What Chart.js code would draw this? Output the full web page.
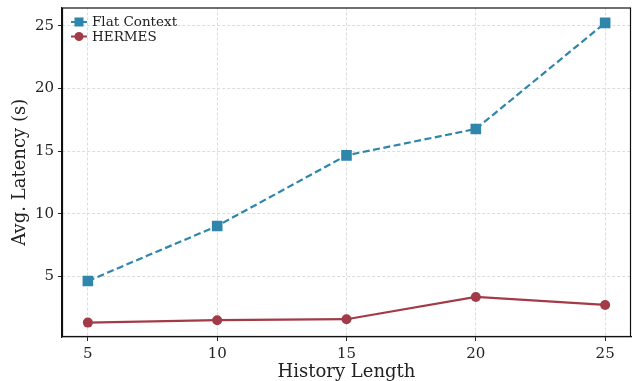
<!DOCTYPE html>
<html><head><meta charset="utf-8">
<script src="https://cdn.jsdelivr.net/npm/chart.js@4.4.0/dist/chart.umd.min.js"></script>
<style>html,body{margin:0;padding:0;background:#fff}#wrap{width:639px;height:381px}</style>
</head><body><div id="wrap"><canvas id="c" width="639" height="381"></canvas></div>
<script>
const historyLength = [5, 10, 15, 20, 25];
const flatContext = [4.62, 9.02, 14.66, 16.77, 25.24];
const hermes = [1.30, 1.49, 1.57, 3.35, 2.71];
const yTicks = [5, 10, 15, 20, 25];
const xTicks = [5, 10, 15, 20, 25];
const seriesNames = ['Flat Context', 'HERMES'];

const BLUE = '#2E86AB', RED = '#A23B47';
const FONT = "'DejaVu Serif', serif";

const framePlugin = {
  id: 'frame',
  afterDraw(chart) {
    const {ctx, chartArea: a} = chart;
    ctx.save();
    ctx.strokeStyle = '#111';
    ctx.lineWidth = 1.2;
    ctx.strokeRect(a.left + 0.5, a.top + 0.5, a.right - a.left - 1, a.bottom - a.top - 1);
    // legend
    const items = [
      {label: seriesNames[0], color: BLUE, style: 'rect'},
      {label: seriesNames[1], color: RED, style: 'circle'}
    ];
    ctx.font = "13.5px " + FONT;
    ctx.textBaseline = 'middle';
    items.forEach((it, i) => {
      const y = a.top + 14.5 + i * 14.5;
      const x0 = a.left + 9, x1 = a.left + 25;
      ctx.strokeStyle = it.color;
      ctx.lineWidth = 2;
      ctx.beginPath(); ctx.moveTo(x0, y); ctx.lineTo(x1, y); ctx.stroke();
      ctx.fillStyle = it.color;
      const cx = (x0 + x1) / 2;
      if (it.style === 'rect') { ctx.fillRect(cx - 4.5, y - 4.5, 9, 9); }
      else { ctx.beginPath(); ctx.arc(cx, y, 4.5, 0, Math.PI * 2); ctx.fill(); }
      ctx.fillStyle = '#222';
      ctx.fillText(it.label, a.left + 30, y + 0.5);
    });
    ctx.restore();
  }
};

new Chart(document.getElementById('c'), {
  type: 'line',
  data: {
    datasets: [
      {
        label: seriesNames[0],
        data: historyLength.map((x, i) => ({x, y: flatContext[i]})),
        borderColor: BLUE, backgroundColor: BLUE,
        borderWidth: 2.2, borderDash: [7, 3.5],
        pointStyle: 'rect', pointRadius: 7.5, pointHoverRadius: 7.5,
        pointBorderWidth: 0, tension: 0
      },
      {
        label: seriesNames[1],
        data: historyLength.map((x, i) => ({x, y: hermes[i]})),
        borderColor: RED, backgroundColor: RED,
        borderWidth: 2.2,
        pointStyle: 'circle', pointRadius: 5, pointHoverRadius: 5,
        pointBorderWidth: 0, tension: 0
      }
    ]
  },
  options: {
    responsive: false, animation: false,
    layout: {padding: {top: 7, right: 8, left: 0, bottom: 0}},
    plugins: {legend: {display: false}, tooltip: {enabled: false}},
    scales: {
      x: {
        type: 'linear', min: 4, max: 26,
        afterBuildTicks(s) { s.ticks = xTicks.map(v => ({value: v})); },
        afterFit(s) { s.height = 44; s.paddingLeft = 0; s.paddingRight = 0; },
        ticks: {color: '#222', font: {family: FONT, size: 15}, padding: 4},
        grid: {color: '#dcdcdc', tickColor: '#222', tickLength: 4, tickBorderDash: []},
        border: {display: true, color: '#111', width: 1.2, dash: [3, 2]},
        title: {display: true, text: 'History Length', color: '#222', font: {family: FONT, size: 18, lineHeight: 1}, padding: {top: 0, bottom: 0}}
      },
      y: {
        type: 'linear', min: 0.15, max: 26.47,
        afterBuildTicks(s) { s.ticks = yTicks.map(v => ({value: v})); },
        afterFit(s) { s.width = 62; s.paddingTop = 0; s.paddingBottom = 0; },
        ticks: {color: '#222', font: {family: FONT, size: 15}, padding: 4},
        grid: {color: '#dcdcdc', tickColor: '#222', tickLength: 4, tickBorderDash: []},
        border: {display: true, color: '#111', width: 1.2, dash: [3, 2]},
        title: {display: true, text: 'Avg. Latency (s)', color: '#222', font: {family: FONT, size: 18, lineHeight: 1.2}, padding: {top: 10, bottom: 0}}
      }
    }
  },
  plugins: [framePlugin]
});
</script></body></html>
